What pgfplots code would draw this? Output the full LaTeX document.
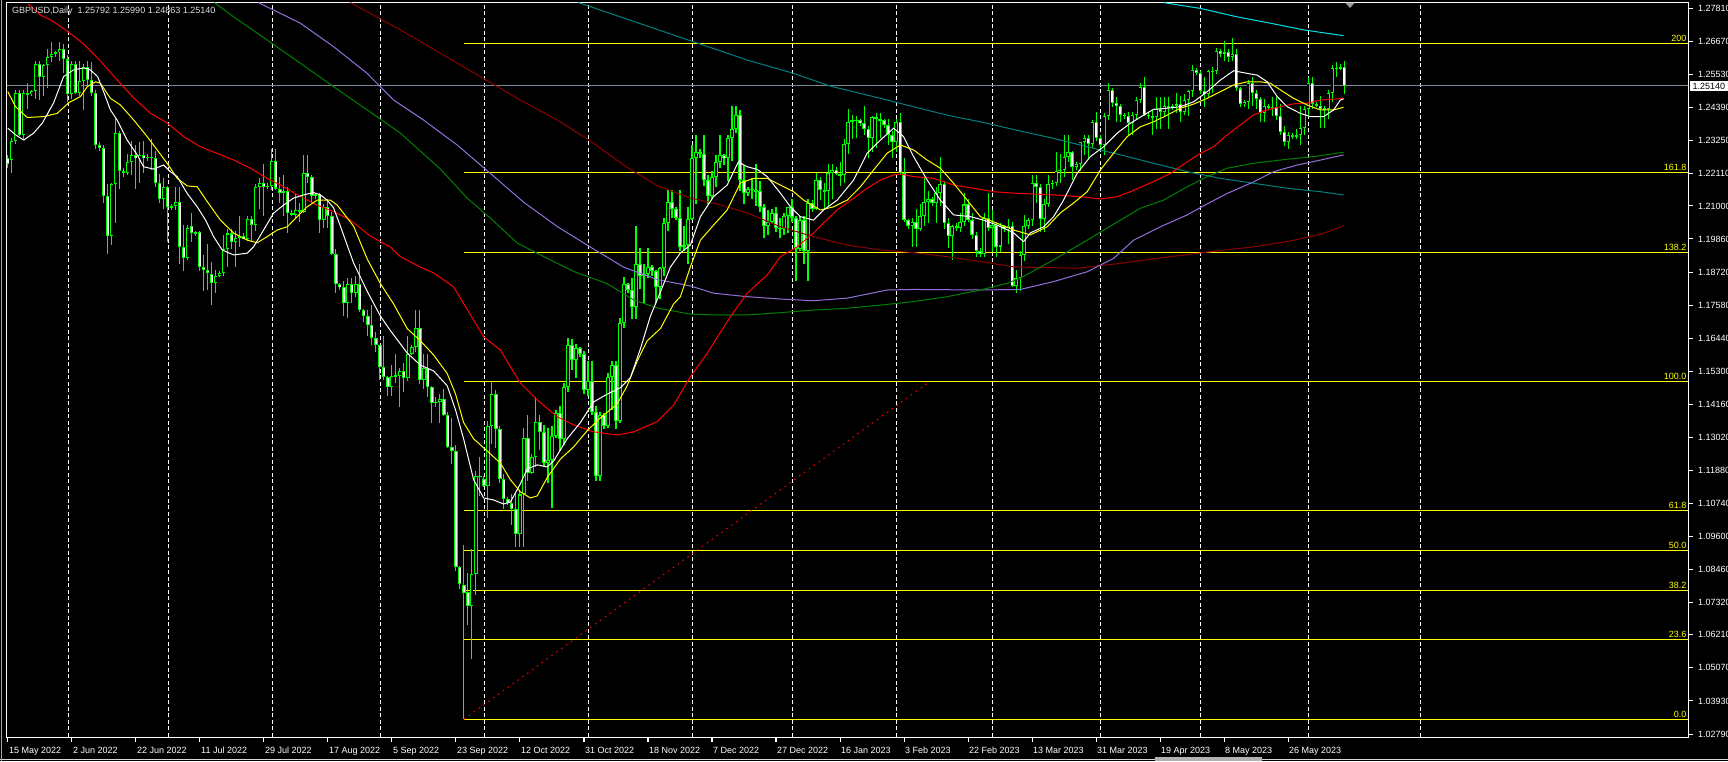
\documentclass[border=0pt]{standalone}
\usepackage{fontspec}
\setmainfont{Liberation Sans}
\usepackage{pgfplots}
\pgfplotsset{compat=1.18}
\usepackage{pgfplotstable}
\definecolor{candle}{RGB}{0,255,0}
\definecolor{maYellow}{RGB}{255,255,0}
\definecolor{maRed}{RGB}{255,0,0}
\definecolor{maGreen}{RGB}{0,128,0}
\definecolor{maPurple}{RGB}{147,112,219}
\definecolor{maTeal}{RGB}{0,128,128}
\definecolor{maCyan}{RGB}{0,225,235}
\definecolor{maMaroon}{RGB}{140,0,0}
\definecolor{priceLine}{RGB}{119,136,153}
\definecolor{fib}{RGB}{255,255,0}
\definecolor{titlegray}{RGB}{222,222,222}

\pgfplotstableread{
i o h l c
0 1.2265 1.2275 1.2230 1.2245
1 1.2258 1.2335 1.2215 1.2325
2 1.2325 1.2500 1.2315 1.2490
3 1.2490 1.2500 1.2340 1.2345
4 1.2345 1.2500 1.2330 1.2490
5 1.2490 1.2525 1.2435 1.2485
6 1.2485 1.2500 1.2478 1.2495
7 1.2495 1.2600 1.2470 1.2590
8 1.2590 1.2600 1.2465 1.2545
9 1.2545 1.2590 1.2480 1.2585
10 1.2585 1.2640 1.2505 1.2615
11 1.2615 1.2665 1.2595 1.2625
12 1.2625 1.2635 1.2612 1.2630
13 1.2630 1.2665 1.2600 1.2640
14 1.2640 1.2660 1.2560 1.2605
15 1.2605 1.2620 1.2460 1.2485
16 1.2485 1.2600 1.2470 1.2590
17 1.2590 1.2600 1.2485 1.2490
18 1.2490 1.2600 1.2480 1.2530
19 1.2530 1.2590 1.2430 1.2580
20 1.2580 1.2600 1.2510 1.2535
21 1.2535 1.2595 1.2480 1.2490
22 1.2490 1.2500 1.2295 1.2310
23 1.2310 1.2320 1.2290 1.2300
24 1.2300 1.2310 1.2110 1.2135
25 1.2135 1.2175 1.1935 1.1995
26 1.1995 1.2180 1.1965 1.2175
27 1.2175 1.2405 1.2040 1.2350
28 1.2350 1.2360 1.2160 1.2220
29 1.2220 1.2230 1.2200 1.2215
30 1.2215 1.2280 1.2205 1.2250
31 1.2250 1.2325 1.2205 1.2275
32 1.2275 1.2310 1.2160 1.2265
33 1.2265 1.2320 1.2180 1.2275
34 1.2275 1.2325 1.2215 1.2265
35 1.2265 1.2280 1.2255 1.2270
36 1.2270 1.2330 1.2225 1.2265
37 1.2265 1.2290 1.2165 1.2180
38 1.2180 1.2210 1.2110 1.2125
39 1.2125 1.2195 1.2090 1.2165
40 1.2165 1.2170 1.1975 1.2095
41 1.2095 1.2105 1.2085 1.2100
42 1.2100 1.2165 1.2085 1.2115
43 1.2115 1.2165 1.1900 1.1960
44 1.1960 1.2035 1.1875 1.1920
45 1.1920 1.2035 1.1915 1.2025
46 1.2030 1.2075 1.1975 1.2005
47 1.2005 1.2015 1.1995 1.2010
48 1.2010 1.2015 1.1875 1.1890
49 1.1890 1.1930 1.1805 1.1880
50 1.1880 1.1970 1.1810 1.1870
51 1.1865 1.1905 1.1760 1.1835
52 1.1835 1.1880 1.1800 1.1860
53 1.1860 1.1875 1.1855 1.1870
54 1.1870 1.2000 1.1860 1.1950
55 1.1950 1.2020 1.1890 1.2005
56 1.2005 1.2020 1.1950 1.1975
57 1.1975 1.2015 1.1890 1.1990
58 1.1990 1.2065 1.1960 1.1995
59 1.1995 1.2005 1.1985 1.1985
60 1.1985 1.2065 1.1980 1.2055
61 1.2055 1.2065 1.1980 1.2035
62 1.2035 1.2175 1.2015 1.2165
63 1.2165 1.2195 1.2090 1.2180
64 1.2180 1.2245 1.2065 1.2165
65 1.2165 1.2180 1.2160 1.2170
66 1.2170 1.2295 1.2155 1.2255
67 1.2255 1.2295 1.2155 1.2160
68 1.2160 1.2200 1.2110 1.2145
69 1.2145 1.2205 1.2065 1.2150
70 1.2150 1.2165 1.2005 1.2075
71 1.2075 1.2085 1.2065 1.2070
72 1.2070 1.2140 1.2055 1.2085
73 1.2085 1.2110 1.2045 1.2080
74 1.2080 1.2275 1.2075 1.2215
75 1.2215 1.2275 1.2180 1.2200
76 1.2200 1.2205 1.2110 1.2135
77 1.2135 1.2145 1.2125 1.2140
78 1.2140 1.2145 1.2005 1.2050
79 1.2050 1.2105 1.2025 1.2095
80 1.2095 1.2125 1.2025 1.2065
81 1.2065 1.2080 1.1930 1.1935
82 1.1935 1.1950 1.1800 1.1830
83 1.1830 1.1835 1.1810 1.1820
84 1.1820 1.1840 1.1720 1.1765
85 1.1765 1.1850 1.1715 1.1830
86 1.1830 1.1850 1.1765 1.1800
87 1.1800 1.1860 1.1785 1.1830
88 1.1830 1.1900 1.1735 1.1740
89 1.1740 1.1745 1.1700 1.1720
90 1.1720 1.1740 1.1650 1.1690
91 1.1690 1.1760 1.1620 1.1645
92 1.1645 1.1665 1.1595 1.1620
93 1.1620 1.1620 1.1500 1.1545
94 1.1545 1.1650 1.1500 1.1510
95 1.1510 1.1515 1.1445 1.1475
96 1.1475 1.1550 1.1445 1.1515
97 1.1515 1.1590 1.1490 1.1515
98 1.1515 1.1540 1.1405 1.1530
99 1.1530 1.1560 1.1460 1.1505
100 1.1505 1.1650 1.1495 1.1590
101 1.1590 1.1620 1.1585 1.1615
102 1.1615 1.1740 1.1595 1.1680
103 1.1680 1.1740 1.1485 1.1500
104 1.1500 1.1590 1.1470 1.1540
105 1.1540 1.1590 1.1440 1.1475
106 1.1475 1.1480 1.1350 1.1420
107 1.1420 1.1440 1.1405 1.1425
108 1.1425 1.1450 1.1350 1.1435
109 1.1435 1.1470 1.1375 1.1380
110 1.1380 1.1390 1.1265 1.1270
111 1.1270 1.1370 1.1210 1.1255
112 1.1255 1.1275 1.0840 1.0855
113 1.0855 1.0860 1.0780 1.0795
114 1.0793 1.0931 1.0330 1.0765
115 1.0768 1.0835 1.0655 1.0720
116 1.0720 1.0917 1.0538 1.0832
117 1.0832 1.1185 1.0760 1.1170
118 1.1170 1.1235 1.1100 1.1165
119 1.1160 1.1170 1.1130 1.1135
120 1.1135 1.1360 1.1025 1.1340
121 1.1340 1.1495 1.1280 1.1450
122 1.1450 1.1465 1.1265 1.1330
123 1.1330 1.1340 1.1145 1.1160
124 1.1160 1.1175 1.1055 1.1090
125 1.1090 1.1095 1.1070 1.1075
126 1.1075 1.1105 1.1000 1.1055
127 1.1055 1.1110 1.0925 1.0970
128 1.0970 1.1120 1.0925 1.1105
129 1.1105 1.1335 1.0925 1.1300
130 1.1300 1.1380 1.1150 1.1180
131 1.1180 1.1245 1.1175 1.1235
132 1.1235 1.1440 1.1200 1.1355
133 1.1355 1.1380 1.1260 1.1320
134 1.1320 1.1345 1.1200 1.1215
135 1.1215 1.1335 1.1145 1.1225
136 1.1225 1.1340 1.1060 1.1305
137 1.1305 1.1395 1.1300 1.1385
138 1.1385 1.1410 1.1255 1.1295
139 1.1295 1.1490 1.1275 1.1475
140 1.1475 1.1645 1.1460 1.1620
141 1.1620 1.1640 1.1535 1.1570
142 1.1570 1.1625 1.1505 1.1610
143 1.1610 1.1615 1.1580 1.1590
144 1.1590 1.1600 1.1450 1.1465
145 1.1465 1.1565 1.1445 1.1495
146 1.1495 1.1565 1.1380 1.1390
147 1.1390 1.1410 1.1150 1.1170
148 1.1170 1.1390 1.1150 1.1380
149 1.1380 1.1385 1.1330 1.1340
150 1.1340 1.1525 1.1335 1.1510
151 1.1510 1.1565 1.1395 1.1550
152 1.1550 1.1565 1.1330 1.1360
153 1.1360 1.1715 1.1350 1.1695
154 1.1695 1.1855 1.1680 1.1830
155 1.1830 1.1835 1.1800 1.1810
156 1.1810 1.1850 1.1710 1.1750
157 1.1750 1.2030 1.1710 1.1900
158 1.1900 1.1955 1.1815 1.1860
159 1.1860 1.1900 1.1765 1.1865
160 1.1865 1.1955 1.1850 1.1890
161 1.1890 1.1895 1.1860 1.1875
162 1.1875 1.1880 1.1765 1.1820
163 1.1820 1.1890 1.1780 1.1885
164 1.1885 1.2060 1.1860 1.2040
165 1.2040 1.2155 1.2015 1.2115
166 1.2115 1.2155 1.2060 1.2090
167 1.2090 1.2095 1.2050 1.2060
168 1.2060 1.2155 1.1945 1.1960
169 1.1960 1.2030 1.1945 1.1965
170 1.1965 1.2095 1.1900 1.2055
171 1.2055 1.2310 1.2050 1.2265
172 1.2265 1.2345 1.2105 1.2285
173 1.2285 1.2295 1.2265 1.2280
174 1.2280 1.2345 1.2170 1.2190
175 1.2190 1.2205 1.2105 1.2135
176 1.2135 1.2220 1.2125 1.2200
177 1.2200 1.2275 1.2165 1.2250
178 1.2250 1.2345 1.2230 1.2275
179 1.2275 1.2280 1.2240 1.2265
180 1.2265 1.2345 1.2185 1.2335
181 1.2335 1.2445 1.2255 1.2365
182 1.2365 1.2445 1.2350 1.2415
183 1.2415 1.2430 1.2150 1.2190
184 1.2190 1.2240 1.2105 1.2145
185 1.2145 1.2165 1.2135 1.2160
186 1.2160 1.2195 1.2125 1.2155
187 1.2155 1.2245 1.2100 1.2150
188 1.2150 1.2185 1.2080 1.2095
189 1.2095 1.2105 1.1990 1.2030
190 1.2030 1.2085 1.2000 1.2045
191 1.2045 1.2090 1.2040 1.2075
192 1.2075 1.2095 1.2010 1.2025
193 1.2025 1.2060 1.1990 1.2020
194 1.2020 1.2075 1.2000 1.2065
195 1.2065 1.2095 1.2005 1.2095
196 1.2095 1.2125 1.2045 1.2060
197 1.2060 1.2065 1.1840 1.1950
198 1.1950 1.2065 1.1945 1.2050
199 1.2050 1.2065 1.1900 1.1945
200 1.1945 1.2125 1.1840 1.2110
201 1.2110 1.2120 1.2080 1.2090
202 1.2090 1.2215 1.2085 1.2190
203 1.2190 1.2200 1.2120 1.2155
204 1.2155 1.2180 1.2085 1.2150
205 1.2150 1.2245 1.2100 1.2215
206 1.2215 1.2245 1.2125 1.2225
207 1.2225 1.2235 1.2205 1.2210
208 1.2210 1.2250 1.2170 1.2205
209 1.2205 1.2330 1.2180 1.2315
210 1.2315 1.2435 1.2280 1.2390
211 1.2390 1.2415 1.2330 1.2395
212 1.2395 1.2410 1.2335 1.2395
213 1.2395 1.2400 1.2375 1.2385
214 1.2385 1.2445 1.2345 1.2365
215 1.2365 1.2375 1.2265 1.2335
216 1.2335 1.2410 1.2285 1.2405
217 1.2405 1.2420 1.2300 1.2400
218 1.2400 1.2420 1.2335 1.2395
219 1.2395 1.2400 1.2370 1.2380
220 1.2380 1.2400 1.2310 1.2345
221 1.2345 1.2360 1.2265 1.2320
222 1.2320 1.2400 1.2285 1.2390
223 1.2390 1.2420 1.2205 1.2215
224 1.2215 1.2265 1.2045 1.2050
225 1.2050 1.2055 1.2020 1.2030
226 1.2030 1.2060 1.1960 1.2045
227 1.2045 1.2090 1.1960 1.2020
228 1.2020 1.2105 1.2015 1.2065
229 1.2065 1.2195 1.2030 1.2115
230 1.2115 1.2150 1.2040 1.2125
231 1.2125 1.2130 1.2100 1.2110
232 1.2110 1.2165 1.2040 1.2145
233 1.2145 1.2270 1.2100 1.2175
234 1.2175 1.2185 1.2020 1.2040
235 1.2040 1.2060 1.1955 1.1995
236 1.1995 1.2035 1.1915 1.2030
237 1.2030 1.2040 1.2015 1.2025
238 1.2025 1.2075 1.2010 1.2045
239 1.2045 1.2145 1.2030 1.2105
240 1.2105 1.2125 1.2045 1.2050
241 1.2050 1.2075 1.1985 1.2000
242 1.2000 1.2010 1.1925 1.1945
243 1.1945 1.1955 1.1925 1.1935
244 1.1935 1.2075 1.1925 1.2060
245 1.2060 1.2145 1.2015 1.2025
246 1.2025 1.2085 1.1940 1.2035
247 1.2035 1.2040 1.1925 1.1960
248 1.1960 1.2040 1.1940 1.2030
249 1.2030 1.2035 1.2010 1.2020
250 1.2020 1.2055 1.1970 1.2030
251 1.2030 1.2045 1.1820 1.1825
252 1.1825 1.1880 1.1800 1.1850
253 1.1850 1.1945 1.1805 1.1930
254 1.1930 1.2070 1.1910 1.2030
255 1.2030 1.2060 1.2020 1.2050
256 1.2050 1.2205 1.2030 1.2180
257 1.2180 1.2205 1.2110 1.2165
258 1.2165 1.2175 1.2010 1.2055
259 1.2055 1.2125 1.2010 1.2105
260 1.2105 1.2205 1.2095 1.2175
261 1.2175 1.2190 1.2160 1.2180
262 1.2180 1.2285 1.2170 1.2220
263 1.2220 1.2280 1.2180 1.2225
264 1.2225 1.2345 1.2200 1.2270
265 1.2270 1.2345 1.2250 1.2285
266 1.2285 1.2290 1.2190 1.2235
267 1.2235 1.2250 1.2225 1.2245
268 1.2245 1.2320 1.2220 1.2320
269 1.2320 1.2345 1.2275 1.2335
270 1.2335 1.2345 1.2265 1.2315
271 1.2315 1.2395 1.2300 1.2390
272 1.2390 1.2425 1.2325 1.2335
273 1.2335 1.2345 1.2290 1.2310
274 1.2310 1.2420 1.2275 1.2410
275 1.2410 1.2525 1.2395 1.2500
276 1.2500 1.2505 1.2440 1.2455
277 1.2455 1.2475 1.2390 1.2445
278 1.2445 1.2450 1.2390 1.2415
279 1.2415 1.2420 1.2400 1.2410
280 1.2410 1.2425 1.2345 1.2385
281 1.2385 1.2425 1.2345 1.2415
282 1.2415 1.2475 1.2400 1.2465
283 1.2465 1.2525 1.2455 1.2510
284 1.2510 1.2545 1.2410 1.2415
285 1.2415 1.2425 1.2400 1.2410
286 1.2410 1.2430 1.2345 1.2405
287 1.2405 1.2475 1.2365 1.2435
288 1.2435 1.2475 1.2365 1.2425
289 1.2425 1.2475 1.2410 1.2445
290 1.2445 1.2475 1.2365 1.2440
291 1.2440 1.2450 1.2430 1.2445
292 1.2445 1.2490 1.2420 1.2450
293 1.2450 1.2480 1.2390 1.2425
294 1.2425 1.2485 1.2415 1.2465
295 1.2465 1.2500 1.2410 1.2495
296 1.2495 1.2585 1.2475 1.2570
297 1.2570 1.2575 1.2550 1.2560
298 1.2560 1.2565 1.2485 1.2495
299 1.2495 1.2545 1.2440 1.2485
300 1.2485 1.2570 1.2475 1.2565
301 1.2565 1.2580 1.2490 1.2565
302 1.2565 1.2645 1.2555 1.2635
303 1.2635 1.2640 1.2615 1.2625
304 1.2625 1.2670 1.2600 1.2630
305 1.2630 1.2640 1.2595 1.2615
306 1.2615 1.2680 1.2600 1.2625
307 1.2625 1.2640 1.2495 1.2505
308 1.2505 1.2510 1.2440 1.2450
309 1.2450 1.2465 1.2440 1.2460
310 1.2460 1.2535 1.2435 1.2525
311 1.2525 1.2545 1.2445 1.2490
312 1.2490 1.2500 1.2435 1.2470
313 1.2470 1.2475 1.2390 1.2420
314 1.2420 1.2470 1.2390 1.2445
315 1.2445 1.2450 1.2435 1.2440
316 1.2440 1.2475 1.2410 1.2440
317 1.2440 1.2475 1.2395 1.2410
318 1.2410 1.2450 1.2345 1.2355
319 1.2355 1.2375 1.2305 1.2320
320 1.2320 1.2355 1.2295 1.2345
321 1.2345 1.2350 1.2330 1.2340
322 1.2340 1.2365 1.2330 1.2345
323 1.2345 1.2445 1.2310 1.2370
324 1.2370 1.2445 1.2345 1.2435
325 1.2435 1.2545 1.2405 1.2525
326 1.2525 1.2545 1.2435 1.2450
327 1.2450 1.2460 1.2440 1.2445
328 1.2445 1.2480 1.2370 1.2435
329 1.2435 1.2445 1.2370 1.2435
330 1.2435 1.2500 1.2400 1.2490
331 1.2490 1.2585 1.2460 1.2575
332 1.2575 1.2595 1.2545 1.2575
333 1.2575 1.2590 1.2570 1.2579
334 1.25792 1.25990 1.24863 1.25140
}\candles

\begin{document}
\begin{tikzpicture}
\useasboundingbox (0,0) rectangle (1728pt,-761pt);
\fill[black] (0,0) rectangle (1728pt,-761pt);
\begin{axis}[
  at={(7pt,-2.5pt)}, anchor=north west,
  scale only axis, width=1681pt, height=734.5pt,
  xmin=-0.25, xmax=420, ymin=1.026865, ymax=1.280141,
  clip mode=individual,
  axis line style={white, line width=1pt},
  tick align=outside, major tick length=4.5pt,
  major tick style={white, line width=1pt},
  xtick pos=left, ytick pos=right, yticklabel pos=right,
  xtick={0,16,...,320},
  xticklabels={15 May 2022,2 Jun 2022,22 Jun 2022,11 Jul 2022,29 Jul 2022,17 Aug 2022,5 Sep 2022,23 Sep 2022,12 Oct 2022,31 Oct 2022,18 Nov 2022,7 Dec 2022,27 Dec 2022,16 Jan 2023,3 Feb 2023,22 Feb 2023,13 Mar 2023,31 Mar 2023,19 Apr 2023,8 May 2023,26 May 2023},
  ytick={1.02790,1.03930,1.05070,1.06210,1.07320,1.08460,1.09600,1.10740,1.11880,1.13020,1.14160,1.15300,1.16440,1.17580,1.18720,1.19860,1.21000,1.22110,1.23250,1.24390,1.25530,1.26670,1.27810},
  yticklabels={1.02790,1.03930,1.05070,1.06210,1.07320,1.08460,1.09600,1.10740,1.11880,1.13020,1.14160,1.15300,1.16440,1.17580,1.18720,1.19860,1.21000,1.22110,1.23250,1.24390,1.25530,1.26670,1.27810},
  tick label style={text=white, font=\fontsize{9}{10}\selectfont},
  xticklabel style={anchor=north west, inner sep=0pt, xshift=1pt, yshift=-5.5pt},
  yticklabel style={anchor=west, inner sep=0pt, xshift=5.5pt},
]
% monthly grid
\pgfplotsinvokeforeach{15,40,66,93,119,145,171,196,222,246,273,298,325,353}{
  \addplot[white, line width=0.9pt, dash pattern=on 4pt off 2.5pt, forget plot] coordinates {(#1,1.0) (#1,1.3)};
}
% fibonacci levels
\pgfplotsinvokeforeach{1.0330,1.06049,1.07750,1.09125,1.10500,1.14950,1.19400,1.22149,1.26600}{
  \addplot[fib, line width=1pt, forget plot] coordinates {(114,#1) (420,#1)};
}
\addplot[maRed, line width=1pt, dash pattern=on 1.5pt off 4.5pt, forget plot] coordinates {(114,1.0330) (230.5,1.1495)};
% current price line
\addplot[priceLine, line width=1pt, forget plot] coordinates {(-1,1.2514) (421,1.2514)};
% wicks
\addplot[draw=none, mark=none, forget plot, error bars/.cd, y dir=both, y explicit, error mark=none, error bar style={draw=candle, line width=1pt, solid}]
  table[x=i, y expr={(\thisrow{h}+\thisrow{l})/2}, y error expr={(\thisrow{h}-\thisrow{l})/2}]{\candles};
% bodies
\addplot[draw=none, mark=none, forget plot, error bars/.cd, y dir=both, y explicit, error mark=none, error bar style={draw=candle, line width=3pt, solid}]
  table[x=i, y expr={(\thisrow{o}+\thisrow{c})/2}, y error expr={max(abs(\thisrow{o}-\thisrow{c})/2,0.00018)}]{\candles};
% bear interiors (white)
\addplot[draw=none, mark=none, forget plot, error bars/.cd, y dir=both, y explicit, error mark=none, error bar style={draw=white, line width=1.1pt, solid}]
  table[x=i, y expr={(\thisrow{o}+\thisrow{c})/2}, y error expr={max((\thisrow{o}-\thisrow{c})/2-0.00035,0)}]{\candles};
% bull interiors (black)
\addplot[draw=none, mark=none, forget plot, error bars/.cd, y dir=both, y explicit, error mark=none, error bar style={draw=black, line width=1.1pt, solid}]
  table[x=i, y expr={(\thisrow{o}+\thisrow{c})/2}, y error expr={max((\thisrow{c}-\thisrow{o})/2-0.00035,0)}]{\candles};

% moving averages
\addplot[maMaroon, line width=1pt, mark=none] coordinates {(85.6,1.2801) (98.1,1.2707) (113.1,1.2586) (128.1,1.2465) (137.3,1.2396) (145.6,1.2324) (153.9,1.2241) (162.3,1.2170) (170.6,1.2127) (176.4,1.2110) (184.8,1.2076) (193.1,1.2028) (201.4,1.1994) (209.8,1.1965) (218.1,1.1948) (226.4,1.1939) (234.8,1.1925) (243.1,1.1908) (251.4,1.1890) (267.3,1.1885) (278.1,1.1902) (290.6,1.1925) (300.6,1.1942) (311.4,1.1959) (319.8,1.1977) (328.1,1.2002) (333.9,1.2031)};
\addplot[maTeal, line width=1pt, mark=none] coordinates {(142.6,1.2801) (184.8,1.2603) (196.4,1.2557) (205.6,1.2513) (218.1,1.2471) (226.4,1.2442) (234.8,1.2413) (243.1,1.2390) (253.1,1.2358) (261.4,1.2333) (269.8,1.2304) (278.1,1.2276) (286.4,1.2247) (294.8,1.2218) (303.1,1.2195) (311.4,1.2178) (319.8,1.2161) (328.1,1.2149) (333.9,1.2138)};
\addplot[maCyan, line width=1pt, mark=none] coordinates {(288.9,1.2801) (298.1,1.2781) (307.3,1.2752) (315.6,1.2730) (323.9,1.2707) (333.9,1.2687)};
\addplot[maPurple, line width=1pt, mark=none] coordinates {(62.6,1.2801) (73.1,1.2730) (81.4,1.2649) (89.8,1.2557) (96.4,1.2465) (103.9,1.2396) (112.3,1.2310) (120.6,1.2212) (128.9,1.2113) (137.3,1.2029) (145.6,1.1958) (153.9,1.1889) (162.3,1.1846) (170.6,1.1824) (176.4,1.1799) (184.8,1.1787) (193.1,1.1779) (201.4,1.1773) (209.8,1.1782) (219.8,1.1810) (226.4,1.1812) (243.1,1.1810) (253.1,1.1812) (261.4,1.1839) (269.8,1.1873) (276.4,1.1919) (281.4,1.1982) (288.1,1.2028) (294.8,1.2069) (299.8,1.2107) (304.8,1.2143) (311.4,1.2183) (316.4,1.2218) (322.3,1.2241) (328.1,1.2258) (333.9,1.2276)};
\addplot[maGreen, line width=1pt, mark=none] coordinates {(51.6,1.2801) (56.4,1.2752) (64.8,1.2672) (73.1,1.2592) (81.4,1.2511) (89.8,1.2431) (98.1,1.2351) (108.1,1.2227) (114.8,1.2127) (120.6,1.2058) (127.3,1.1972) (133.1,1.1931) (141.4,1.1874) (149.8,1.1832) (156.4,1.1776) (162.3,1.1748) (170.6,1.1727) (176.4,1.1724) (184.8,1.1724) (193.1,1.1732) (201.4,1.1741) (209.8,1.1747) (218.1,1.1758) (226.4,1.1770) (234.8,1.1787) (243.1,1.1810) (249.8,1.1833) (253.1,1.1851) (261.4,1.1914) (269.8,1.1982) (278.1,1.2051) (283.1,1.2092) (288.9,1.2120) (294.8,1.2166) (299.8,1.2201) (304.8,1.2230) (311.4,1.2247) (319.8,1.2261) (326.4,1.2270) (333.9,1.2285)};
\addplot[maRed, line width=1pt, mark=none] coordinates {(5.1,1.2796) (8.1,1.2758) (11.1,1.2738) (14.8,1.2703) (18.95,1.2658) (23.1,1.2600) (27.3,1.2534) (31.45,1.2472) (35.6,1.2420) (39.8,1.2386) (43.95,1.2339) (48.1,1.2304) (52.3,1.2281) (56.45,1.2258) (60.6,1.2230) (64.8,1.2195) (68.95,1.2166) (73.1,1.2132) (77.3,1.2103) (81.45,1.2080) (85.6,1.2051) (90.6,1.1996) (95.6,1.1958) (98.1,1.1925) (103.1,1.1889) (106.4,1.1869) (111.4,1.1821) (118.9,1.1649) (123.1,1.1603) (128.1,1.1489) (132.3,1.1431) (137.3,1.1373) (141.4,1.1345) (146.4,1.1321) (152.3,1.1310) (156.4,1.1321) (162.3,1.1356) (166.4,1.1413) (170.6,1.1511) (174.8,1.1592) (180.6,1.1718) (184.8,1.1799) (189.8,1.1862) (193.1,1.1925) (197.3,1.1959) (201.4,1.2007) (203.9,1.2041) (207.3,1.2086) (211.4,1.2127) (214.8,1.2161) (218.1,1.2189) (221.4,1.2207) (223.1,1.2210) (226.4,1.2201) (231.4,1.2195) (236.4,1.2172) (241.4,1.2161) (246.4,1.2149) (251.4,1.2144) (261.4,1.2138) (268.1,1.2132) (273.1,1.2124) (277.3,1.2132) (280.6,1.2149) (286.4,1.2184) (290.6,1.2212) (294.8,1.2252) (298.1,1.2281) (301.4,1.2304) (304.8,1.2345) (308.1,1.2379) (311.4,1.2414) (314.8,1.2431) (318.1,1.2442) (321.4,1.2452) (324.8,1.2454) (328.1,1.2465) (331.4,1.2468) (333.9,1.2471)};
\addplot[maYellow, line width=1pt, mark=none] coordinates {(-0.05,1.2494) (1.9,1.2442) (4.8,1.2405) (8.95,1.2408) (12.3,1.2419) (15.2,1.2456) (18.1,1.2477) (19.8,1.2511) (21.9,1.2528) (23.1,1.2523) (25.6,1.2471) (28.1,1.2448) (31.45,1.2396) (34.8,1.2339) (37.3,1.2293) (39.8,1.2247) (42.3,1.2195) (44.8,1.2169) (47.3,1.2166) (49.8,1.2115) (53.1,1.2051) (56.45,1.2006) (59.8,1.1982) (62.3,1.1973) (64.8,1.1994) (67.3,1.2017) (69.8,1.2028) (72.3,1.2063) (74.8,1.2097) (77.3,1.2120) (80.6,1.2120) (82.3,1.2103) (86.4,1.2030) (89.8,1.1917) (93.1,1.1832) (96.4,1.1762) (99.8,1.1677) (103.1,1.1635) (106.4,1.1586) (109.8,1.1522) (111.9,1.1451) (113.9,1.1353) (116.4,1.1297) (119.8,1.1255) (123.1,1.1213) (125.6,1.1156) (128.1,1.1114) (130.6,1.1093) (132.3,1.1100) (134.8,1.1163) (138.1,1.1227) (141.4,1.1269) (144.8,1.1325) (148.1,1.1369) (152.3,1.1417) (154.8,1.1480) (157.3,1.1565) (159.8,1.1635) (163.1,1.1677) (166.4,1.1762) (168.1,1.1787) (170.6,1.1890) (173.1,1.1982) (176.4,1.2034) (179.8,1.2086) (183.1,1.2179) (186.4,1.2195) (189.8,1.2195) (193.1,1.2172) (196.4,1.2149) (198.9,1.2120) (203.1,1.2086) (206.4,1.2097) (209.8,1.2120) (213.1,1.2166) (216.4,1.2224) (219.8,1.2282) (223.1,1.2310) (226.4,1.2293) (229.8,1.2258) (233.1,1.2230) (236.4,1.2178) (239.8,1.2120) (243.1,1.2063) (247.3,1.2040) (251.4,1.2017) (255.6,1.2000) (259.8,1.2028) (263.1,1.2076) (266.4,1.2110) (269.8,1.2149) (273.1,1.2224) (276.4,1.2282) (279.8,1.2339) (283.1,1.2373) (286.4,1.2390) (289.8,1.2413) (293.1,1.2437) (296.4,1.2451) (299.8,1.2471) (303.1,1.2494) (306.4,1.2517) (309.8,1.2528) (313.1,1.2528) (315.6,1.2523) (318.1,1.2500) (321.4,1.2471) (324.8,1.2448) (328.1,1.2431) (331.4,1.2431) (333.9,1.2440)};
\addplot[white, line width=1pt, mark=none] coordinates {(-0.05,1.2368) (1.9,1.2345) (3.95,1.2327) (6.4,1.2351) (8.55,1.2385) (11.4,1.2455) (13.9,1.2546) (16.4,1.2569) (18.9,1.2576) (20.6,1.2569) (22.4,1.2546) (23.9,1.2494) (25.6,1.2431) (27.3,1.2396) (29.8,1.2327) (32.3,1.2276) (33.9,1.2235) (36.4,1.2227) (38.9,1.2241) (40.6,1.2218) (42.3,1.2201) (44.8,1.2143) (47.3,1.2097) (49.4,1.2051) (51.4,1.1994) (53.55,1.1948) (56.4,1.1931) (59.8,1.1937) (61.4,1.1959) (63.9,1.2017) (66.4,1.2075) (68.9,1.2103) (71.4,1.2127) (73.9,1.2138) (76.4,1.2146) (78.1,1.2138) (79.8,1.2120) (81.4,1.2093) (83.1,1.2030) (86.4,1.1903) (89.9,1.1803) (93.1,1.1720) (95.6,1.1670) (99.8,1.1593) (103.1,1.1551) (106.4,1.1531) (109.8,1.1480) (111.9,1.1396) (113.9,1.1297) (116.4,1.1156) (118.9,1.1093) (121.4,1.1086) (123.9,1.1072) (125.6,1.1079) (128.1,1.1142) (129.8,1.1193) (132.3,1.1207) (134.8,1.1200) (136.4,1.1220) (139.8,1.1297) (143.1,1.1353) (146.4,1.1424) (149.8,1.1451) (153.1,1.1473) (155.6,1.1508) (158.1,1.1607) (160.6,1.1720) (163.1,1.1803) (165.6,1.1889) (168.1,1.1938) (170.6,1.1965) (173.1,1.2063) (176.4,1.2132) (179.8,1.2172) (182.6,1.2252) (184.8,1.2235) (187.3,1.2226) (189.8,1.2201) (193.1,1.2144) (195.6,1.2097) (198.1,1.2063) (201.4,1.2051) (203.9,1.2086) (207.3,1.2120) (211.4,1.2189) (214.8,1.2282) (218.1,1.2327) (221.4,1.2368) (223.9,1.2339) (226.4,1.2270) (229.8,1.2189) (233.1,1.2120) (236.4,1.2069) (240.6,1.2063) (243.9,1.2051) (247.3,1.2034) (251.4,1.2007) (253.9,1.1977) (255.6,1.2007) (258.9,1.2028) (261.4,1.2063) (263.9,1.2120) (267.3,1.2213) (270.6,1.2270) (273.9,1.2304) (277.3,1.2351) (280.6,1.2385) (283.9,1.2413) (286.4,1.2433) (289.8,1.2437) (293.1,1.2442) (296.4,1.2459) (299.8,1.2494) (303.1,1.2534) (306.4,1.2566) (309.8,1.2557) (312.3,1.2551) (314.8,1.2528) (317.3,1.2477) (319.8,1.2442) (323.1,1.2419) (325.6,1.2408) (328.9,1.2408) (331.4,1.2431) (333.1,1.2465) (333.9,1.2469)};

% fibonacci labels
\pgfplotsinvokeforeach{{1.0330/0.0},{1.06049/23.6},{1.07750/38.2},{1.09125/50.0},{1.10500/61.8},{1.14950/100.0},{1.19400/138.2},{1.22149/161.8},{1.26600/200}}{}
\foreach \lv/\lb in {1.0330/0.0,1.06049/23.6,1.07750/38.2,1.09125/50.0,1.10500/61.8,1.14950/100.0,1.19400/138.2,1.22149/161.8,1.26600/200}{
  \edef\temp{\noexpand\node[anchor=south east, inner sep=0pt, xshift=-1.5pt, yshift=1.6pt, text=fib, font=\noexpand\fontsize{9}{10}\noexpand\selectfont] at (axis cs:420,\lv) {\lb};}
  \temp
}
\end{axis}
% title
\node[anchor=west, inner sep=0pt, text=titlegray, font=\fontsize{9}{10}\selectfont] at (12pt,-11pt) {GBPUSD,Daily\ \ 1.25792 1.25990 1.24863 1.25140};
% current price label
\node[anchor=west, fill=white, text=black, inner xsep=2.5pt, inner ysep=1.6pt, font=\fontsize{9}{10}\selectfont] at (1690pt,-85.9pt) {1.25140};
% chart shift marker
\fill[gray!80] (1345pt,-2.5pt) -- (1355pt,-2.5pt) -- (1350pt,-8pt) -- cycle;
% window bottom / left edges
\draw[white!85!black, line width=1pt] (0,-759.5pt) -- (1728pt,-759.5pt);
\fill[gray!60] (1155pt,-757pt) rectangle (1262pt,-761pt);
\draw[gray!70, line width=1pt] (1.5pt,0) -- (1.5pt,-761pt);
\end{tikzpicture}
\end{document}
